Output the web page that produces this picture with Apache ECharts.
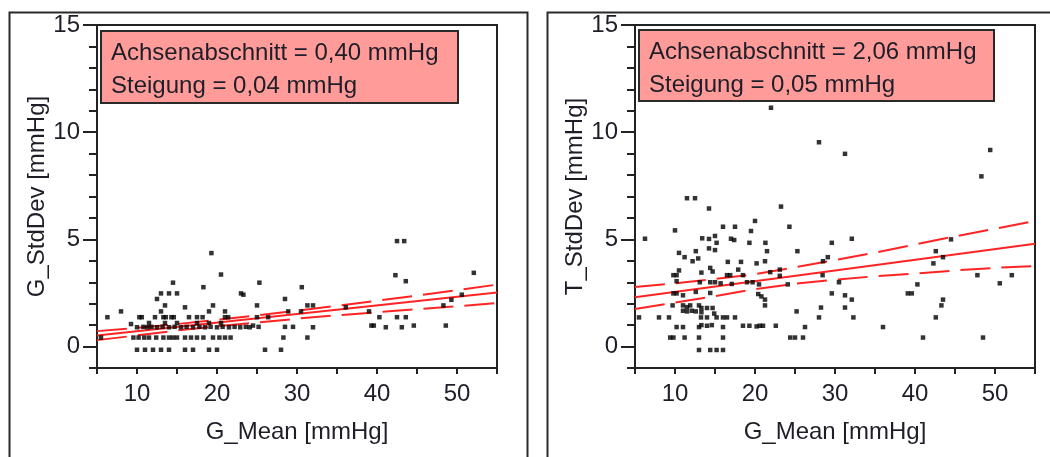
<!DOCTYPE html>
<html>
<head>
<meta charset="utf-8">
<script src="https://cdn.jsdelivr.net/npm/echarts@6/dist/echarts.min.js"></script>
<style>
  html, body { margin: 0; padding: 0; background: #ffffff; }
  #chart { width: 1050px; height: 457px; }
</style>
</head>
<body>
<div id="chart"></div>
<script>
// ---------- Data ----------
const xAxisTitle = 'G_Mean [mmHg]';
const leftYTitle = 'G_StdDev [mmHg]';
const rightYTitle = 'T_StdDev [mmHg]';
const leftBoxLines = ['Achsenabschnitt = 0,40 mmHg', 'Steigung = 0,04 mmHg'];
const rightBoxLines = ['Achsenabschnitt = 2,06 mmHg', 'Steigung = 0,05 mmHg'];
const yMajorTicks = [0, 5, 10, 15];

// Left panel: G_Mean vs G_StdDev
const gPoints = [
  [10.0,-0.15],[11.0,-0.15],[12.0,-0.15],[13.0,-0.15],[14.0,-0.15],[16.0,-0.15],[17.0,-0.15],[19.0,-0.15],[20.0,-0.15],[26.0,-0.15],[28.0,-0.15],
  [5.5,0.42],[9.55,0.42],[10.2,0.42],[10.9,0.42],[11.5,0.42],[12.4,0.42],[13.3,0.42],[14.0,0.42],[14.5,0.42],[15.0,0.42],[16.0,0.42],[16.75,0.42],[17.5,0.42],[18.3,0.42],[19.5,0.42],[20.3,0.42],[21.0,0.42],[21.7,0.42],[28.3,0.42],[31.3,0.42],
  [10.0,0.90],[10.8,0.92],[11.3,0.90],[11.8,0.92],[12.5,0.90],[13.2,0.92],[14.0,0.90],[14.7,0.92],[15.5,0.90],[16.2,0.92],[17.0,0.90],[17.8,0.92],[18.5,0.90],[19.2,0.92],[20.0,0.90],[20.7,0.92],[21.5,0.90],[22.2,0.92],[22.9,0.90],[23.6,0.92],[24.1,0.90],[24.5,0.98],[25.2,0.92],[28.5,0.92],[29.5,0.92],[32.0,0.90],[39.3,0.98],[39.6,0.98],[41.1,0.90],[43.1,0.90],[44.6,0.98],[48.6,0.98],
  [9.25,1.05],[11.5,1.10],[13.5,1.10],[15.0,1.10],[17.5,1.10],[19.0,1.10],[20.5,1.10],
  [6.3,1.37],[10.3,1.37],[10.6,1.37],[12.25,1.37],[13.3,1.37],[13.6,1.37],[14.3,1.37],[14.6,1.37],[16.5,1.37],[17.5,1.37],[18.2,1.37],[21.0,1.37],[21.4,1.37],[25.0,1.37],[26.4,1.37],[40.3,1.37],[42.5,1.37],[43.6,1.37],
  [8.0,1.64],[13.0,1.64],[19.0,1.64],[21.0,1.64],[28.9,1.64],[30.5,1.64],[39.0,1.64],
  [13.5,1.92],[16.0,1.83],[19.5,1.92],[25.0,1.92],[31.3,1.92],[32.0,1.92],[36.1,1.83],[48.3,1.92],
  [12.5,2.22],[28.5,2.22],[49.3,2.18],[50.6,2.42],
  [13.0,2.48],[14.0,2.48],[15.0,2.48],[23.0,2.48],[23.3,2.42],
  [18.3,2.77],[30.6,2.77],
  [14.5,2.98],[25.3,2.98],[43.6,3.05],
  [20.5,3.36],[42.3,3.33],[52.1,3.44],
  [19.3,4.36],
  [42.5,4.92],[43.4,4.92]
];
const gFitCenter = [[5,0.52],[55,2.52]];
const gFitUpper = [[5,0.72],[10,0.87],[15,1.05],[20,1.25],[25,1.45],[30,1.67],[35,1.90],[40,2.14],[45,2.38],[50,2.63],[55,2.89]];
const gFitLower = [[5,0.30],[10,0.52],[15,0.75],[20,0.95],[25,1.12],[30,1.30],[35,1.46],[40,1.60],[45,1.74],[50,1.88],[55,2.03]];

// Right panel: G_Mean vs T_StdDev
const tPoints = [
  [22.0,11.14],[28.0,9.53],[31.25,8.99],[49.4,9.17],[48.3,7.94],
  [11.5,6.92],[12.5,6.92],[14.25,6.44],[23.25,6.53],
  [6.25,5.03],[10.0,5.42],[16.0,5.59],[17.5,5.59],[20.0,5.86],[19.5,5.39],[24.3,5.59],
  [13.4,5.05],[14.25,5.02],[15.0,5.16],[15.2,4.84],[17.0,5.03],[17.4,4.97],[19.3,4.84],[21.3,4.84],[29.6,4.84],[32.1,5.03],
  [25.3,4.45],[21.5,4.45],[10.5,4.37],[12.6,4.45],[11.2,4.17],[14.25,4.58],[15.0,4.50],[42.6,4.45],[44.5,5.00],[43.5,4.17],[42.3,3.88],
  [28.5,3.98],[29.1,4.17],[12.2,3.98],[12.9,4.11],[16.6,3.95],[18.25,3.95],[20.2,3.88],[21.25,3.98],
  [9.8,3.33],[10.2,3.33],[10.5,3.55],[13.3,3.45],[14.4,3.67],[14.7,3.50],[16.5,3.33],[16.9,3.33],[17.9,3.59],[18.5,3.33],[23.1,3.59],[23.1,3.30],[21.9,3.47],[28.45,3.33],[47.8,3.33],
  [10.2,3.05],[13.1,3.00],[14.4,3.00],[15.0,3.00],[15.7,2.95],[17.1,2.92],[19.0,3.00],[19.7,3.00],[20.5,2.90],[30.5,3.00],[50.6,2.95],[52.1,3.33],[40.3,2.90],[24.1,2.90],
  [9.8,2.48],[10.2,2.48],[11.0,2.39],[12.6,2.55],[14.4,2.50],[20.4,2.45],[20.8,2.34],[21.25,2.19],[21.25,1.92],[29.6,2.48],[31.25,2.39],[32.1,2.19],[39.1,2.48],[39.6,2.48],[43.5,2.19],[43.3,1.92],
  [9.7,1.92],[11.0,1.92],[11.5,1.84],[11.9,1.92],[11.0,1.67],[11.5,1.64],[12.1,1.67],[12.6,1.64],[13.0,1.92],[13.3,1.80],[14.0,1.80],[14.7,1.80],[13.3,1.60],[14.9,1.54],[15.2,1.36],[28.25,1.82],[31.25,1.82],[25.2,1.64],
  [5.5,1.36],[8.0,1.36],[9.25,1.36],[13.25,1.36],[14.0,1.36],[16.0,1.36],[16.5,1.36],[17.5,1.36],[28.0,1.36],[32.3,1.36],[42.6,1.36],
  [10.2,0.91],[11.0,0.91],[13.0,0.91],[13.3,1.00],[14.0,0.97],[14.6,1.00],[16.0,0.91],[18.5,0.97],[19.3,0.97],[20.2,0.94],[20.6,0.97],[21.0,0.97],[22.6,0.97],[26.25,0.91],[36.0,0.91],
  [9.4,0.42],[9.8,0.42],[11.2,0.42],[13.0,0.42],[16.0,0.42],[24.4,0.42],[25.0,0.42],[26.0,0.42],[41.0,0.42],[48.5,0.42],
  [13.0,-0.16],[14.4,-0.16],[15.2,-0.16],[16.0,-0.16]
];
const tFitCenter = [[5,2.30],[55,4.80]];
const tFitUpper = [[5,2.78],[10,2.95],[15,3.15],[20,3.38],[25,3.70],[30,4.03],[35,4.38],[40,4.76],[45,5.14],[50,5.50],[55,5.86]];
const tFitLower = [[5,1.75],[10,2.05],[15,2.35],[20,2.68],[25,2.93],[30,3.12],[35,3.28],[40,3.40],[45,3.55],[50,3.67],[55,3.76]];

// ---------- Chart ----------
const FONT = '"Liberation Sans", Arial, sans-serif';
const TXT = '#1e1e28';
const AX = '#222222';
const PLOT_W = 400;
const chart = echarts.init(document.getElementById('chart'), null, { renderer: 'canvas' });

function xAxisFor(gi) {
  return {
    type: 'value', gridIndex: gi, min: 5, max: 55, interval: 5,
    name: xAxisTitle, nameLocation: 'middle', nameGap: 52,
    nameTextStyle: { fontFamily: FONT, fontSize: 24, color: TXT },
    axisLine: { show: true, onZero: false, lineStyle: { color: AX, width: 2 } },
    axisTick: { show: true, length: 6, lineStyle: { color: AX, width: 2 } },
    axisLabel: {
      fontFamily: FONT, fontSize: 24, color: TXT, margin: 14,
      formatter: v => (v % 10 === 0 ? String(v) : '')
    },
    splitLine: { show: false }
  };
}
function yMainFor(gi, title) {
  return {
    type: 'value', gridIndex: gi, min: -1, max: 15, position: 'left',
    name: title, nameLocation: 'middle', nameGap: 48, nameRotate: 90,
    nameTextStyle: { fontFamily: FONT, fontSize: 24, color: TXT },
    axisLine: { show: true, onZero: false, lineStyle: { color: AX, width: 2 } },
    axisTick: { show: true, length: 14, customValues: yMajorTicks, lineStyle: { color: AX, width: 2 } },
    axisLabel: { fontFamily: FONT, fontSize: 24, color: TXT, margin: 17, customValues: yMajorTicks },
    splitLine: { show: false }
  };
}
// Minor ticks: a second axis placed on the "right" slot but shifted onto the left edge,
// with inside ticks so they point outward (to the left).
function yMinorFor(gi) {
  return {
    type: 'value', gridIndex: gi, min: -1, max: 15, interval: 1, position: 'right', offset: -PLOT_W,
    axisLine: { show: true, onZero: false, lineStyle: { color: AX, width: 2 } },
    axisTick: { show: true, inside: true, length: 8, lineStyle: { color: AX, width: 2 } },
    axisLabel: { show: false },
    splitLine: { show: false }
  };
}
function fitSeries(data, xi, yi, dashed) {
  return {
    type: 'line', xAxisIndex: xi, yAxisIndex: yi, data: data,
    showSymbol: false, symbol: 'none', smooth: false, silent: true, z: 3,
    lineStyle: { color: '#ff2424', width: 2, type: dashed ? [30, 11] : 'solid' }
  };
}
function scatterSeries(data, xi, yi) {
  return {
    type: 'scatter', xAxisIndex: xi, yAxisIndex: yi, data: data,
    symbol: 'rect', symbolSize: 4.5, itemStyle: { color: '#000000' }, z: 4, silent: true
  };
}
function boxGraphic(x, y, w, h, lines) {
  return {
    type: 'group', left: x, top: y, z: 100,
    children: [
      { type: 'rect', shape: { x: 0, y: 0, width: w, height: h },
        style: { fill: '#ff9c9a', stroke: '#2a2a2a', lineWidth: 2 } },
      { type: 'text', x: 10, y: 22, style: { text: lines[0], font: '24px ' + FONT, fill: TXT, verticalAlign: 'middle' } },
      { type: 'text', x: 10, y: 55, style: { text: lines[1], font: '24px ' + FONT, fill: TXT, verticalAlign: 'middle' } }
    ]
  };
}

const option = {
  backgroundColor: '#ffffff',
  animation: false,
  grid: [
    { left: 97, top: 25, width: PLOT_W, height: 343, show: true, borderColor: AX, borderWidth: 2, backgroundColor: 'transparent' },
    { left: 635, top: 25, width: PLOT_W, height: 343, show: true, borderColor: AX, borderWidth: 2, backgroundColor: 'transparent' }
  ],
  xAxis: [xAxisFor(0), xAxisFor(1)],
  yAxis: [yMainFor(0, leftYTitle), yMinorFor(0), yMainFor(1, rightYTitle), yMinorFor(1)],
  series: [
    scatterSeries(gPoints, 0, 0),
    fitSeries(gFitCenter, 0, 0, false),
    fitSeries(gFitUpper, 0, 0, true),
    fitSeries(gFitLower, 0, 0, true),
    scatterSeries(tPoints, 1, 2),
    fitSeries(tFitCenter, 1, 2, false),
    fitSeries(tFitUpper, 1, 2, true),
    fitSeries(tFitLower, 1, 2, true)
  ],
  graphic: [
    { type: 'rect', left: 7, top: 10, z: 50, shape: { x: 0, y: 0, width: 518, height: 470 },
      style: { fill: 'none', stroke: '#2a2a2a', lineWidth: 2 } },
    { type: 'rect', left: 545, top: 10, z: 50, shape: { x: 0, y: 0, width: 530, height: 470 },
      style: { fill: 'none', stroke: '#2a2a2a', lineWidth: 2 } },
    boxGraphic(100, 30, 357, 72, leftBoxLines),
    boxGraphic(638, 29, 355, 71, rightBoxLines)
  ]
};
chart.setOption(option);
</script>
</body>
</html>
